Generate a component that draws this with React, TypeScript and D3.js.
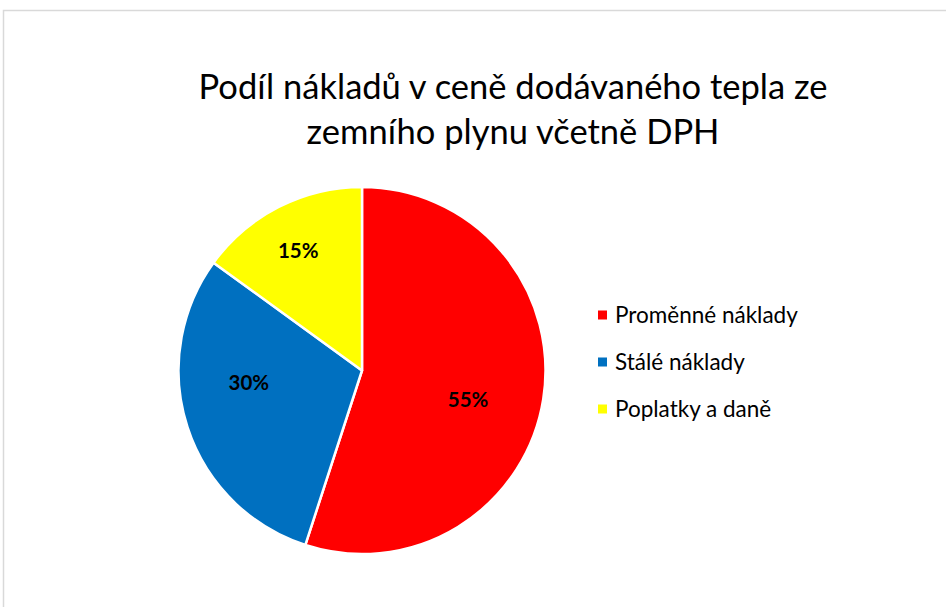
import React from "react";
import * as d3 from "d3";

const categories = ["Proměnné náklady", "Stálé náklady", "Poplatky a daně"];
const values = [55, 30, 15];
const colors = ["#FF0000", "#0070C0", "#FFFF00"];
const titleLines = ["Podíl nákladů v ceně dodávaného tepla ze", "zemního plynu včetně DPH"];

const W = 946;
const H = 607;
const FONT = "Lato, 'Open Sans', sans-serif";

export default function App() {
  const cx = 362;
  const cy = 370.5;
  const r = 183.5;
  const pie = d3.pie<number>().sort(null).value((d) => d)(values);
  const arc = d3.arc<d3.PieArcDatum<number>>().innerRadius(0).outerRadius(r);
  // Excel "best fit" label placement: angle shift (deg) from slice bisector and radius factor
  const labelShift = [6.5, 12, -1];
  const labelFactor = [0.6, 0.62, 0.74];
  const total = d3.sum(values);

  return (
    <svg
      width={W}
      height={H}
      style={{ position: "fixed", left: 0, top: 0, background: "#fff" }}
      fontFamily={FONT}
    >
      <rect x={3.5} y={10.5} width={W + 10} height={H + 10} fill="#fff" stroke="#d9d9d9" strokeWidth={1.5} />
      {titleLines.map((t, i) => (
        <text key={i} x={513} y={99 + i * 45} textAnchor="middle" fontSize={34.5} fill="#000">
          {t}
        </text>
      ))}
      <g transform={`translate(${cx},${cy})`}>
        {pie.map((p, i) => (
          <path key={i} d={arc(p) || ""} fill={colors[i]} stroke="#fff" strokeWidth={2.5} strokeLinejoin="round" />
        ))}
        {pie.map((p, i) => {
          const a = (p.startAngle + p.endAngle) / 2 + (labelShift[i] * Math.PI) / 180;
          const rr = r * labelFactor[i];
          const x = Math.sin(a) * rr;
          const y = -Math.cos(a) * rr;
          return (
            <text key={i} x={x} y={y} dy="0.36em" textAnchor="middle" fontSize={20.5} fontWeight="bold" fill="#000">
              {`${Math.round((p.value / total) * 100)}%`}
            </text>
          );
        })}
      </g>
      {categories.map((c, i) => (
        <g key={i} transform={`translate(598,${315 + i * 47})`}>
          <rect x={0} y={-4.5} width={9} height={9} fill={colors[i]} />
          <text x={17} y={0} dy="0.36em" fontSize={22.5} fill="#000">
            {c}
          </text>
        </g>
      ))}
    </svg>
  );
}
